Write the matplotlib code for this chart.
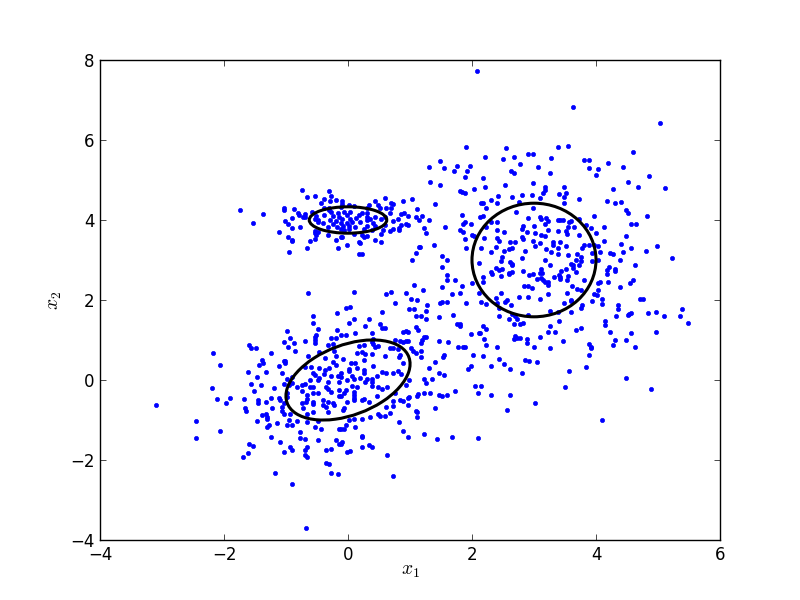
import matplotlib
matplotlib.use("Agg")
import matplotlib.pyplot as plt
from matplotlib.patches import Ellipse

plt.style.use('classic')

lower_left_a = [(-0.64,2.17),(-0.56,1.59),(-0.17,1.67),(-0.56,1.42),(-0.49,1.27),(-0.17,1.24),(-0.98,1.22),(-0.51,1.12),(-0.53,1.07),(-0.93,1.04),(-0.27,1.04),(-0.20,1.04),(-0.54,0.99),(-1.03,0.94),(-0.70,0.97),(-0.53,0.92),(-0.87,0.92),(-1.59,0.87),(-0.33,0.87),(-0.25,0.89),(-0.96,0.82),(-1.56,0.79),(-1.48,0.79),(-0.85,0.72),(-2.17,0.67),(-1.24,0.67),(-0.64,0.59),(-0.46,0.69),(-0.22,0.72),(-1.38,0.49),(-1.04,0.47),(-1.01,0.47),(-0.37,0.54),(-0.19,0.59),(-0.25,0.44),(-2.07,0.37),(-1.37,0.42),(-1.43,0.37),(-1.01,0.42),(-1.12,0.34),(-0.19,0.37),(-0.70,0.32),(-0.59,0.32),(-0.46,0.29),(-0.30,0.29),(-1.62,0.19),(-1.32,0.19),(-1.06,0.17),(-0.37,0.24),(-0.38,0.14),(-0.57,0.17),(-0.53,0.12),(-1.46,0.07),(-0.27,0.09),(-0.98,0.02),(-0.46,0.04),(-0.49,-0.01),(-0.16,0.09),(-0.62,-0.01),(-1.56,-0.11),(-1.40,-0.13),(-1.04,-0.11),(-0.91,0.07),(-0.90,-0.08),(-0.95,-0.13),(-0.33,-0.06),(-0.14,-0.06),(-2.19,-0.21),(-1.20,-0.21),(-0.82,-0.18),(-0.75,-0.13),(-0.69,-0.11),(-0.62,-0.18),(-0.57,-0.18),(-0.35,-0.18),(-0.32,-0.23),(-1.51,-0.28),(-0.75,-0.28),(-0.57,-0.33),(-0.48,-0.33),(-0.27,-0.31),(-0.14,-0.26),(-0.98,-0.33),(-0.66,-0.38),(-0.14,-0.41),(-2.12,-0.48),(-1.90,-0.46),(-1.67,-0.48),(-1.45,-0.51),(-1.24,-0.46),(-1.11,-0.46),(-0.98,-0.43),(-1.09,-0.51),(-0.66,-0.48),(-1.96,-0.58),(-1.45,-0.58),(-1.32,-0.56),(-1.04,-0.58),(-0.74,-0.58),(-0.67,-0.56),(-0.57,-0.56),(-0.57,-0.61),(-0.40,-0.51),(-0.33,-0.56),(-0.41,-0.63),(-0.35,-0.68),(-0.24,-0.58),(-0.22,-0.63),(-1.66,-0.71),(-1.22,-0.71),(-0.72,-0.71),(-1.07,-0.68),(-1.64,-0.78),(-1.06,-0.78),(-1.04,-0.86),(-0.93,-0.86),(-0.56,-0.81),(-0.32,-0.81),(-0.66,-0.86),(-1.38,-0.88),(-1.32,-0.86),(-1.30,-0.93),(-1.30,-0.98),(-2.45,-1.03),(-1.46,-1.03),(-0.95,-1.01),(-0.82,-1.03),(-0.66,-1.06),(-0.48,-1.03),(-1.14,-1.08),(-1.28,-1.13),(-1.30,-1.18),(-0.99,-1.13),(-0.90,-1.13),(-0.54,-1.18),(-0.43,-1.23),(-2.07,-1.28),(-0.14,-1.23),(-0.77,-1.31),(-2.45,-1.46),(-1.24,-1.43),(-0.77,-1.46),(-0.69,-1.48),(-1.09,-1.56),(-0.48,-1.51),(-0.20,-1.51),(-1.59,-1.61),(-1.54,-1.66),(-0.66,-1.68),(-0.93,-1.68),(-0.91,-1.76),(-1.03,-1.81),(-0.35,-1.76),(-0.27,-1.73),(-1.61,-1.83),(-0.70,-1.76),(-1.70,-1.93),(-0.70,-1.88),(-0.66,-1.93),(-0.35,-2.08),(-0.30,-2.11),(-1.17,-2.33),(-0.28,-2.33),(-0.16,-2.36),(-0.14,-1.61),(-0.67,-3.70),(-3.10,-0.62),(-0.90,-2.60)]

lower_left_b = [(1.07,2.37),(0.10,2.19),(0.62,2.14),(0.70,2.19),(0.94,2.17),(1.02,2.02),(1.12,1.99),(0.76,1.92),(1.49,1.92),(1.52,1.94),(1.59,1.94),(1.91,1.92),(1.28,1.87),(-0.03,1.79),(0.04,1.82),(0.99,1.77),(1.07,1.77),(1.25,1.72),(0.55,1.69),(1.09,1.59),(1.17,1.59),(1.70,1.62),(1.47,1.57),(1.26,1.52),(0.10,1.52),(0.34,1.52),(0.01,1.42),(0.52,1.39),(0.28,1.34),(0.55,1.29),(0.60,1.29),(1.76,1.39),(1.81,1.39),(1.80,1.34),(1.10,1.32),(1.13,1.24),(0.38,1.17),(0.12,1.17),(0.89,1.19),(0.93,1.22),(0.96,1.19),(1.99,1.14),(2.12,1.17),(-0.11,1.12),(-0.04,1.12),(1.22,1.07),(1.25,1.07),(1.20,0.99),(1.17,0.92),(1.46,0.97),(1.62,0.94),(0.41,1.02),(0.39,0.94),(0.75,0.99),(0.84,0.97),(0.89,0.94),(0.94,0.97),(0.96,0.97),(0.17,0.84),(0.26,0.87),(0.41,0.89),(0.44,0.82),(0.49,0.84),(1.78,0.82),(1.86,0.82),(1.89,0.82),(0.68,0.79),(0.72,0.79),(0.80,0.77),(1.02,0.79),(1.05,0.72),(1.09,0.67),(1.17,0.72),(0.15,0.67),(0.22,0.69),(0.28,0.64),(0.38,0.64),(0.59,0.59),(0.84,0.62),(0.83,0.57),(1.17,0.57),(2.02,0.62),(1.55,0.62),(1.54,0.57),(-0.08,0.52),(0.26,0.49),(1.41,0.44),(0.89,0.42),(0.05,0.42),(0.12,0.42),(0.15,0.29),(0.41,0.34),(1.30,0.29),(1.99,0.34),(1.94,0.27),(0.02,0.27),(0.02,0.22),(0.25,0.24),(0.25,0.17),(0.55,0.19),(0.62,0.17),(0.72,0.17),(0.80,0.22),(0.86,0.14),(1.47,0.17),(1.55,0.12),(-0.11,0.17),(0.47,0.09),(-0.11,0.07),(0.07,0.09),(0.20,0.04),(0.09,0.02),(-0.01,-0.01),(0.30,0.02),(0.39,0.02),(1.23,0.02),(1.36,0.02),(0.99,-0.01),(0.39,-0.06),(0.28,-0.06),(1.25,-0.08),(0.94,-0.13),(0.07,-0.16),(0.39,-0.16),(0.15,-0.18),(0.49,-0.18),(0.63,-0.18),(0.55,-0.23),(2.05,-0.16),(-0.04,-0.26),(1.73,-0.28),(0.75,-0.33),(0.09,-0.31),(1.33,-0.33),(1.23,-0.33),(1.13,-0.36),(1.12,-0.41),(1.46,-0.38),(1.51,-0.41),(1.59,-0.38),(2.10,-0.33),(-0.06,-0.33),(-0.12,-0.41),(0.10,-0.38),(0.10,-0.46),(0.47,-0.41),(0.99,-0.43),(0.97,-0.46),(0.25,-0.48),(0.23,-0.51),(0.09,-0.51),(-0.01,-0.56),(0.34,-0.56),(0.72,-0.53),(0.84,-0.51),(0.88,-0.53),(0.96,-0.63),(0.62,-0.68),(0.73,-0.66),(-0.06,-0.71),(-0.08,-0.76),(1.41,-0.71),(1.09,-0.78),(1.12,-0.81),(0.67,-0.83),(0.49,-0.86),(0.52,-0.91),(0.60,-0.91),(1.12,-0.93),(0.36,-0.93),(0.23,-0.98),(0.10,-0.98),(0.01,-1.01),(0.83,-1.06),(-0.03,-1.13),(0.12,-1.18),(-0.06,-1.23),(-0.12,-1.23),(0.88,-1.28),(1.23,-1.36),(0.22,-1.41),(0.22,-1.43),(0.97,-1.43),(1.43,-1.48),(1.68,-1.43),(2.09,-1.46),(-0.09,-1.56),(-0.11,-1.61),(0.34,-1.63),(0.38,-1.68),(0.23,-1.68),(0.04,-1.78),(-0.01,-1.81),(0.63,-1.88),(0.73,-2.41)]

upper_left = [(-0.75,4.74),(-0.30,4.72),(-0.66,4.57),(-0.53,4.59),(-0.27,4.59),(-0.38,4.52),(-0.20,4.49),(-0.29,4.47),(0.59,4.54),(0.89,4.47),(1.04,4.52),(0.43,4.47),(-0.09,4.47),(-0.09,4.39),(-0.43,4.42),(0.49,4.37),(0.70,4.42),(0.73,4.39),(0.34,4.37),(0.10,4.34),(0.01,4.37),(-1.74,4.24),(-1.04,4.29),(-1.04,4.24),(-0.87,4.27),(-0.38,4.29),(-0.30,4.29),(-0.12,4.32),(-0.30,4.24),(0.30,4.29),(0.51,4.29),(0.62,4.29),(0.70,4.29),(1.12,4.27),(-1.37,4.14),(-0.80,4.17),(-0.79,4.12),(-0.70,4.14),(-0.58,4.19),(-0.27,4.19),(-0.16,4.17),(-0.06,4.19),(0.04,4.19),(0.23,4.17),(0.31,4.17),(0.67,4.17),(0.86,4.14),(0.91,4.17),(0.97,4.09),(-0.72,4.07),(-0.69,4.07),(-0.90,4.04),(-0.51,4.09),(-0.38,4.12),(-0.24,4.09),(-0.14,4.07),(-0.01,4.12),(0.17,4.12),(0.31,4.07),(0.43,4.07),(0.60,4.07),(1.10,4.07),(-1.01,3.97),(-0.48,3.99),(-0.53,4.02),(-0.29,3.99),(-0.20,3.97),(-0.09,4.02),(0.04,4.02),(0.13,4.04),(0.30,3.99),(0.36,4.02),(0.54,4.02),(0.73,3.97),(0.80,4.02),(1.15,3.99),(-1.54,3.92),(-0.96,3.89),(-0.40,3.92),(-0.49,3.94),(-0.24,3.89),(-0.12,3.92),(-0.01,3.92),(0.07,3.94),(0.20,3.94),(0.41,3.92),(0.86,3.87),(0.93,3.89),(0.97,3.87),(-0.90,3.79),(-0.77,3.82),(-0.32,3.82),(-0.17,3.82),(-0.08,3.84),(0.02,3.84),(0.12,3.82),(0.30,3.84),(0.44,3.84),(0.59,3.87),(0.83,3.79),(-1.12,3.69),(-0.53,3.72),(-0.48,3.69),(-0.12,3.77),(-0.06,3.74),(0.02,3.77),(0.26,3.77),(0.39,3.74),(0.57,3.74),(0.72,3.77),(0.68,3.72),(0.83,3.74),(-0.96,3.57),(-0.53,3.67),(-0.51,3.62),(-0.33,3.62),(0.09,3.64),(0.23,3.62),(0.31,3.59),(0.54,3.64),(-0.90,3.49),(-0.90,3.47),(-0.61,3.47),(-0.53,3.52),(-0.19,3.49),(-0.12,3.57),(-0.09,3.57),(0.25,3.57),(0.43,3.49),(0.18,3.44),(0.20,3.42),(0.54,3.44),(-0.01,3.37),(1.15,3.32),(-0.66,3.29),(-0.16,3.29),(-0.95,3.19),(0.18,3.14),(0.23,3.14),(1.10,3.17),(1.04,2.99)]

upper_right_a = [(1.90,5.82),(2.55,5.79),(3.39,5.82),(2.21,5.57),(2.50,5.52),(2.67,5.57),(2.91,5.64),(2.99,5.64),(3.28,5.54),(1.49,5.47),(2.78,5.39),(1.31,5.32),(1.55,5.29),(1.75,5.34),(1.96,5.34),(3.07,5.32),(1.71,5.22),(1.92,5.22),(2.63,5.22),(2.68,5.17),(3.26,5.17),(1.89,5.07),(2.18,5.04),(1.33,4.94),(1.49,4.87),(2.54,4.87),(2.99,4.92),(2.21,4.82),(2.04,4.77),(3.18,4.82),(3.17,4.74),(1.81,4.72),(1.84,4.69),(1.88,4.67),(3.15,4.67),(2.65,4.57),(2.42,4.59),(2.80,4.62),(2.96,4.62),(3.09,4.54),(3.41,4.64),(2.30,4.49),(1.41,4.39),(2.15,4.42),(2.18,4.42),(2.41,4.42),(2.76,4.44),(2.23,4.29),(2.99,4.29),(2.71,4.19),(1.84,4.12),(1.20,4.09),(2.13,4.07),(2.18,4.09),(1.30,3.99),(2.91,4.04),(3.10,4.07),(3.12,4.02),(3.20,4.04),(3.23,3.97),(3.39,3.99),(1.88,3.94),(1.86,3.89),(1.99,3.89),(2.31,3.94),(2.41,3.94),(3.17,3.89),(3.00,3.84),(1.57,3.82),(1.23,3.79),(2.22,3.82),(2.83,3.84),(2.80,3.77),(1.81,3.74),(1.86,3.69),(1.25,3.67),(2.41,3.74),(2.52,3.69),(2.89,3.69),(3.02,3.67),(3.23,3.74),(3.39,3.72),(2.00,3.62),(2.04,3.59),(3.12,3.62),(3.18,3.59),(2.81,3.57),(2.83,3.52),(1.89,3.52),(2.20,3.54),(2.41,3.54),(2.44,3.47),(2.62,3.44),(2.70,3.44),(2.99,3.47),(3.30,3.44),(3.31,3.37),(3.09,3.42),(3.02,3.34),(1.38,3.37),(1.91,3.29),(2.15,3.29),(2.39,3.32),(2.65,3.29),(2.60,3.27),(1.16,3.32),(3.39,3.29),(3.20,3.27),(2.52,3.22),(2.31,3.19),(2.86,3.22),(3.28,3.19),(3.39,3.14),(1.52,3.09),(2.49,3.07),(2.80,3.04),(1.59,2.99),(2.47,2.97),(3.17,2.99),(2.62,2.94),(2.65,2.89),(2.12,2.92),(2.65,2.87),(3.25,2.87),(1.51,2.82),(2.39,2.79),(2.44,2.74),(2.49,2.77),(3.12,2.77),(2.31,2.69),(2.33,2.64),(2.60,2.67),(2.65,2.69),(2.59,2.64),(2.83,2.72),(2.92,2.62),(2.99,2.64),(3.09,2.67),(3.13,2.67),(3.33,2.57),(3.41,2.62),(1.60,2.62),(2.17,2.57),(2.46,2.59),(3.12,2.54),(3.05,2.52),(1.60,2.49),(1.73,2.49),(2.17,2.44),(2.00,2.42),(3.15,2.49),(3.17,2.44),(3.22,2.44),(1.84,2.34),(1.52,2.32),(2.84,2.34),(2.91,2.34),(2.96,2.29),(3.23,2.37),(1.21,2.24),(1.68,2.14),(1.80,2.17),(2.12,2.17),(2.46,2.17),(3.22,2.14),(2.39,2.04),(2.76,2.07),(2.91,2.07),(3.09,2.02),(2.57,1.99)]

upper_right_b = [(3.55,5.84),(4.59,5.69),(3.81,5.49),(3.89,5.49),(4.20,5.42),(3.89,5.29),(4.04,5.27),(4.44,5.32),(4.00,5.12),(4.86,5.09),(4.51,4.94),(3.49,4.82),(4.67,4.82),(4.28,4.77),(5.12,4.79),(3.51,4.67),(3.49,4.57),(3.72,4.52),(4.17,4.47),(4.30,4.42),(4.41,4.44),(3.49,4.42),(4.49,4.24),(4.52,4.17),(3.96,4.09),(4.83,4.09),(3.42,3.99),(3.46,3.99),(3.57,3.94),(3.60,3.97),(3.73,4.02),(4.57,3.89),(4.65,3.89),(3.84,3.87),(3.55,3.82),(3.65,3.82),(3.92,3.79),(4.13,3.82),(3.52,3.72),(3.54,3.64),(3.72,3.62),(4.00,3.67),(4.49,3.59),(4.13,3.47),(3.42,3.44),(4.41,3.39),(3.51,3.34),(3.80,3.37),(3.78,3.29),(3.89,3.37),(3.97,3.37),(4.04,3.34),(4.99,3.34),(4.57,3.29),(4.80,3.22),(4.07,3.19),(4.44,3.19),(3.94,3.17),(4.23,3.17),(4.28,3.14),(3.55,3.12),(3.70,3.14),(5.23,3.04),(3.75,3.07),(3.67,2.99),(3.76,2.97),(3.94,2.97),(4.04,2.99),(4.39,2.99),(3.60,2.89),(3.63,2.87),(3.72,2.87),(4.63,2.87),(4.21,2.82),(3.52,2.77),(3.63,2.79),(4.18,2.74),(4.31,2.77),(4.31,2.72),(3.44,2.72),(3.68,2.69),(4.18,2.64),(3.55,2.59),(3.42,2.57),(3.42,2.52),(3.54,2.49),(3.80,2.49),(4.07,2.44),(4.04,2.42),(4.20,2.44),(4.60,2.49),(4.55,2.42),(3.62,2.34),(4.38,2.32),(3.70,2.27),(3.75,2.24),(4.04,2.24),(3.54,2.17),(3.97,2.14),(4.01,2.12),(4.10,2.02),(4.71,2.02),(4.76,2.02),(3.59,2.00),(2.08,7.72),(3.63,6.82),(5.03,6.42)]

lower_right_a = [(3.49,1.92),(2.63,1.87),(2.44,1.59),(2.59,1.52),(3.25,1.72),(3.39,1.69),(3.41,1.47),(2.67,1.39),(2.78,1.39),(2.83,1.42),(3.25,1.34),(2.17,1.34),(2.22,1.27),(3.23,1.19),(3.34,1.19),(2.13,1.17),(2.70,1.09),(2.68,1.02),(2.73,1.04),(2.78,1.04),(2.88,1.02),(3.10,1.07),(2.20,1.02),(2.22,0.87),(2.88,0.92),(3.47,0.97),(2.41,0.82),(3.00,0.82),(3.25,0.79),(2.17,0.59),(2.44,0.52),(2.86,0.49),(2.92,0.47),(3.05,0.44),(2.52,0.39),(2.30,0.34),(2.62,0.27),(2.81,0.17),(3.57,0.22),(2.15,-0.16),(3.50,-0.18),(2.30,-0.38),(2.62,-0.38),(3.02,-0.58),(2.57,-0.76),(2.65,1.64),(2.70,1.59),(2.73,1.52),(2.91,1.62),(2.15,1.94),(2.23,1.89),(2.41,1.92),(2.44,1.79),(2.54,1.94)]

lower_right_b = [(3.59,1.97),(3.94,1.97),(4.10,1.89),(4.36,1.87),(4.36,1.77),(3.78,1.87),(3.75,1.79),(5.39,1.77),(3.59,1.69),(4.57,1.67),(4.54,1.64),(4.52,1.62),(4.84,1.67),(4.96,1.69),(5.09,1.59),(5.36,1.59),(4.33,1.59),(4.15,1.47),(4.15,1.37),(5.49,1.42),(3.75,1.29),(3.68,1.24),(4.23,1.19),(4.57,1.17),(4.96,1.19),(4.31,0.99),(4.49,0.99),(3.88,0.89),(4.28,0.87),(3.92,0.82),(3.92,0.79),(4.63,0.82),(3.88,0.62),(3.84,0.32),(4.49,0.04),(4.89,-0.23),(4.10,-1.01)]

point_groups = [lower_left_a, lower_left_b, upper_left, upper_right_a, upper_right_b, lower_right_a, lower_right_b]

# contour ellipses: centre, full width, full height, angle
ellipse_specs = [((0.0, 0.0), 2.37, 1.55, 45.0),
                 ((0.0, 4.0), 1.25, 0.66, 0.0),
                 ((3.0, 3.0), 2.0, 2.84, 0.0)]

x_ticks = [-4, -2, 0, 2, 4, 6]
y_ticks = [-4, -2, 0, 2, 4, 6, 8]

fig = plt.figure(figsize=(8, 6), dpi=100, facecolor='white')
ax = fig.add_axes([0.125, 0.1, 0.775, 0.8])

for group in point_groups:
    xs = [p[0] for p in group]
    ys = [p[1] for p in group]
    ax.plot(xs, ys, linestyle='none', marker='.', ms=6, mew=0.5,
            color=(0, 0, 1), mec=(0, 0, 1))

for centre, w, h, angle in ellipse_specs:
    ax.add_patch(Ellipse(centre, w, h, angle=angle, fill=False, ec='k', lw=2.2, zorder=3))

ax.set_xlim(-4, 6)
ax.set_ylim(-4, 8)
ax.set_xticks(x_ticks)
ax.set_yticks(y_ticks)
ax.tick_params(top=True, right=True, direction='in', labelsize=12)
for lab in ax.get_yticklabels():
    lab.set_verticalalignment('center_baseline')
ax.set_xlabel('$x_1$', fontsize=14, labelpad=-2)
ax.set_ylabel('$x_2$', fontsize=14, labelpad=4)

fig.savefig('out.png', dpi=100, facecolor='white')
